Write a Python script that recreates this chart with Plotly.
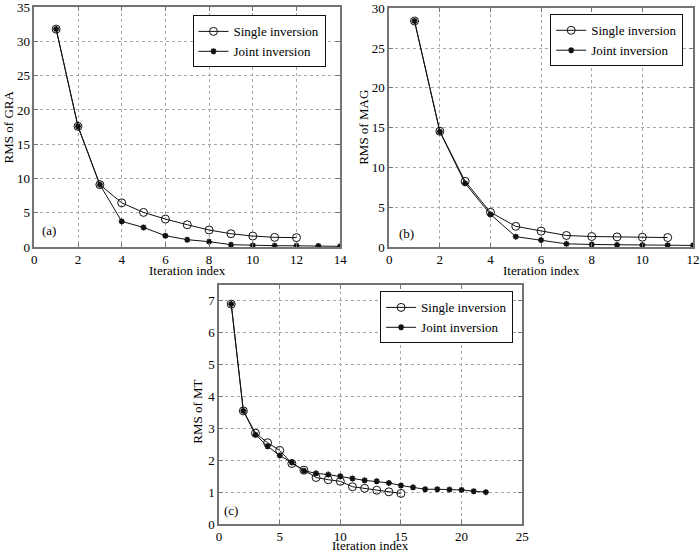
"""Three RMS convergence panels: single vs joint inversion (GRA, MAG, MT)."""

import plotly.graph_objects as go

# (a) gravity
gra_iter_single = list(range(1, 13))
gra_rms_single = [31.8, 17.6, 9.1, 6.45, 5.05, 4.08, 3.25, 2.48, 1.94, 1.6, 1.41, 1.37]
gra_iter_joint = list(range(1, 15))
gra_rms_joint = [31.8, 17.6, 9.1, 3.74, 2.86, 1.65, 1.07, 0.78, 0.34, 0.24, 0.19, 0.18, 0.15, 0.1]

# (b) magnetic
mag_iter_single = list(range(1, 12))
mag_rms_single = [28.4, 14.55, 8.25, 4.36, 2.6, 2.0, 1.45, 1.32, 1.27, 1.23, 1.19]
mag_iter_joint = list(range(1, 13))
mag_rms_joint = [28.4, 14.5, 8.0, 4.1, 1.3, 0.87, 0.4, 0.32, 0.27, 0.24, 0.22, 0.2]

# (c) magnetotelluric
mt_iter_single = list(range(1, 16))
mt_rms_single = [6.9, 3.55, 2.85, 2.55, 2.31, 1.9, 1.69, 1.46, 1.39, 1.34, 1.17, 1.12, 1.06, 1.01, 0.96]
mt_iter_joint = list(range(1, 23))
mt_rms_joint = [6.9, 3.55, 2.8, 2.44, 2.15, 1.93, 1.67, 1.59, 1.55, 1.5, 1.43, 1.37, 1.34, 1.29,
                1.21, 1.15, 1.09, 1.09, 1.08, 1.07, 1.03, 1.0]

panel_labels = ["(a)", "(b)", "(c)"]
y_titles = ["RMS of GRA", "RMS of MAG", "RMS of MT"]
x_title = "Iteration index"
series_names = ["Single inversion", "Joint inversion"]

_FONT = "Liberation Serif, 'Times New Roman', Times, serif"
_LINE = "#111111"
_FRAME = "#747474"
_GRID = "#a8a8a8"
_W = 700
_H = 552

panels = [
    (gra_iter_single, gra_rms_single, gra_iter_joint, gra_rms_joint),
    (mag_iter_single, mag_rms_single, mag_iter_joint, mag_rms_joint),
    (mt_iter_single, mt_rms_single, mt_iter_joint, mt_rms_joint),
]

# domains (700 x 552)
x_domains = [[0.049, 0.486], [0.556, 0.990], [0.313, 0.746]]
y_domains = [[0.5525, 0.987], [0.5525, 0.985], [0.0507, 0.4837]]
x_ranges = [[0, 14], [0, 12], [0, 25]]
x_dticks = [2, 2, 5]
y_ranges = [[0, 35], [0, 30], [0, 7.5]]
y_dticks = [5, 5, 1]
# legend top-right corners (paper coords)
legend_pos = [(0.465, 0.972), (0.976, 0.974), (0.733, 0.472)]
label_pos = [(0.02, 0.07), (0.025, 0.058), (0.01, 0.056)]
ytitle_shift = [-26, -26, -21]
ytitle_pos = [0.5, 0.5, 0.47]
xtitle_shift = [-14, -14, -12]

fig = go.Figure()

for i, (xs, ys, xj, yj) in enumerate(panels):
    suffix = "" if i == 0 else str(i + 1)
    legend_id = "legend" if i == 0 else f"legend{i + 1}"
    fig.add_trace(
        go.Scatter(
            x=xs, y=ys, mode="lines+markers", name=series_names[0],
            xaxis=f"x{suffix}", yaxis=f"y{suffix}", legend=legend_id,
            line={"color": _LINE, "width": 1},
            marker={"symbol": "circle-open", "size": 8, "color": _LINE,
                    "line": {"width": 1, "color": _LINE}},
        )
    )
    fig.add_trace(
        go.Scatter(
            x=xj, y=yj, mode="lines+markers", name=series_names[1],
            xaxis=f"x{suffix}", yaxis=f"y{suffix}", legend=legend_id,
            line={"color": _LINE, "width": 1},
            marker={"symbol": "asterisk-open", "size": 5, "color": _LINE,
                    "line": {"width": 1.6, "color": _LINE}},
        )
    )

axis_common = {
    "showline": True, "mirror": "ticks", "linecolor": _FRAME, "linewidth": 1.5,
    "ticks": "inside", "ticklen": 4, "tickcolor": _FRAME, "tickwidth": 1,
    "showgrid": True, "gridcolor": _GRID, "griddash": "dot", "gridwidth": 1,
    "zeroline": False, "tickfont": {"size": 13, "color": "black"},
    "ticklabeloverflow": "allow",
}

layout = {
    "width": _W, "height": _H,
    "margin": {"l": 0, "r": 0, "t": 0, "b": 0},
    "paper_bgcolor": "white", "plot_bgcolor": "white",
    "font": {"family": _FONT, "size": 13, "color": "black"},
    "annotations": [],
}

for i in range(3):
    suffix = "" if i == 0 else str(i + 1)
    layout[f"xaxis{suffix}"] = dict(
        axis_common, domain=x_domains[i], range=x_ranges[i], dtick=x_dticks[i],
        anchor=f"y{suffix}", automargin=False,
    )
    layout[f"yaxis{suffix}"] = dict(
        axis_common, domain=y_domains[i], range=y_ranges[i], dtick=y_dticks[i],
        anchor=f"x{suffix}", automargin=False,
    )
    legend_id = "legend" if i == 0 else f"legend{i + 1}"
    layout[legend_id] = {
        "x": legend_pos[i][0], "y": legend_pos[i][1],
        "xanchor": "right", "yanchor": "top",
        "bgcolor": "white", "bordercolor": _LINE, "borderwidth": 1,
        "font": {"size": 13}, "tracegroupgap": 0, "itemwidth": 30,
    }
    layout["annotations"].extend([
        {
            "text": panel_labels[i], "showarrow": False,
            "xref": f"x{suffix} domain", "yref": f"y{suffix} domain",
            "x": label_pos[i][0], "y": label_pos[i][1],
            "xanchor": "left", "yanchor": "middle", "font": {"size": 13},
        },
        {
            "text": x_title, "showarrow": False,
            "xref": f"x{suffix} domain", "yref": f"y{suffix} domain",
            "x": 0.5, "y": 0, "xanchor": "center", "yanchor": "top",
            "yshift": xtitle_shift[i], "font": {"size": 13},
        },
        {
            "text": y_titles[i], "showarrow": False, "textangle": -90,
            "xref": f"x{suffix} domain", "yref": f"y{suffix} domain",
            "x": 0, "y": ytitle_pos[i], "xanchor": "center", "yanchor": "middle",
            "xshift": ytitle_shift[i], "font": {"size": 13},
        },
    ])

fig.update_layout(layout)
# drop the browser's default 8px body margin so the figure fills the window
fig.write_html(
    "out.html",
    config={"displayModeBar": False},
    post_script="document.body.style.margin = '0';",
)
